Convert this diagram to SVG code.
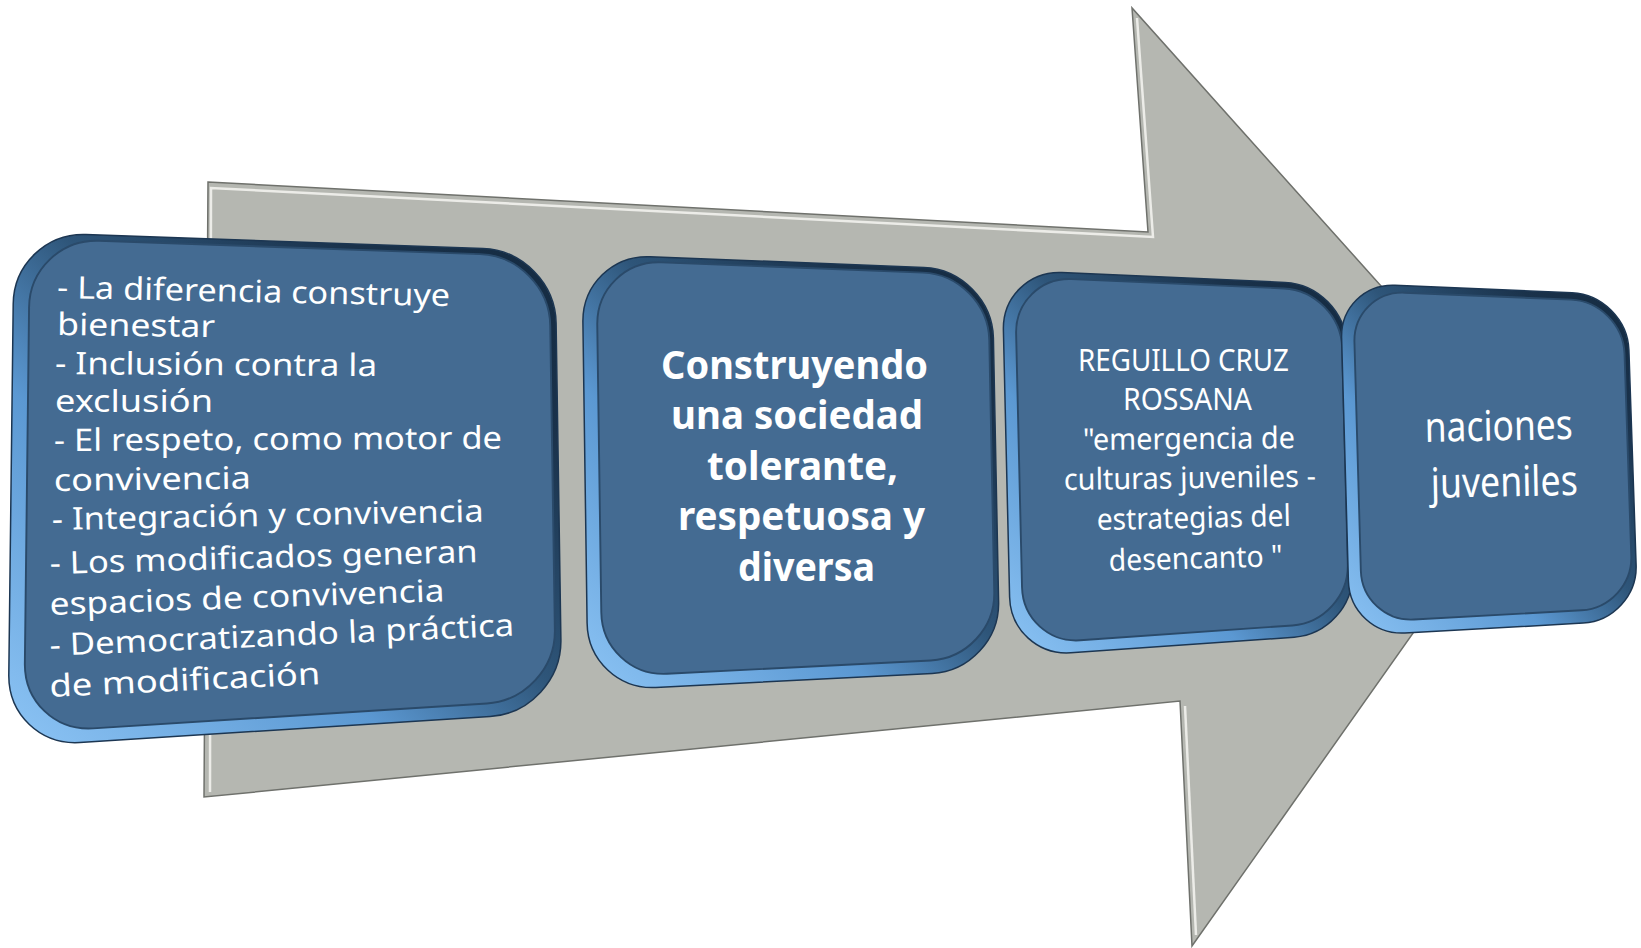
<svg xmlns="http://www.w3.org/2000/svg" width="1641" height="948" viewBox="0 0 1641 948">
<style>
.rim{fill:url(#rimg);stroke:#1c3652;stroke-width:1.5}
.face{fill:#446b92;stroke:#2a4a6a;stroke-width:2}
.t{fill:#ffffff;font-family:"Noto Sans","Open Sans","Liberation Sans",sans-serif}
.t1{font-size:31px}
.t2{font-size:40px;font-weight:bold}
.t3{font-size:30px}
.t4{font-size:42px}
</style>
<defs>
<linearGradient id="rimg" x1="0" y1="1" x2="1" y2="0">
<stop offset="0" stop-color="#8cc4f5"/>
<stop offset="0.35" stop-color="#5b98d2"/>
<stop offset="0.55" stop-color="#2e5579"/>
<stop offset="0.8" stop-color="#1a324b"/>
<stop offset="1" stop-color="#142a40"/>
</linearGradient>
<path id="p1" d="M86,234.5 L483,248.5 C522.6,249.9 555.5,283.4 556.1,323 L560.9,640 C561.5,679.6 529.7,714 490.1,716.5 L79.9,742.5 C40.3,745 8.4,714.6 8.8,675 L13.2,304 C13.6,264.4 46.4,233.1 86,234.5 Z"/>
<path id="p2" d="M650,256.7 L924,267.4 C961.4,268.8 992.6,300.6 993.4,338 L998.6,602 C999.4,639.4 969.4,671.6 932.1,673.5 L655.9,687.5 C618.6,689.4 587.6,660.4 587.1,623 L582.9,322 C582.4,284.6 612.6,255.2 650,256.7 Z"/>
<path id="p3" d="M1061.9,272.6 L1285.1,282.4 C1318,283.8 1345.7,312 1346.6,345 L1352.5,573 C1353.3,606 1327.1,634.9 1294.2,637.2 L1070.9,652.8 C1037.9,655.1 1010.4,630 1009.6,597 L1003.4,330 C1002.6,297 1029,271.2 1061.9,272.6 Z"/>
<path id="p4" d="M1395,285.3 L1572,292.7 C1602.3,294 1627.8,319.7 1628.9,350 L1636.1,565 C1637.2,595.3 1613.3,621.4 1583.1,623.1 L1404.9,633 C1374.7,634.6 1349.3,611.3 1348.4,581 L1341.6,338 C1340.7,307.7 1364.7,284 1395,285.3 Z"/>
</defs>
<rect width="1641" height="948" fill="#ffffff"/>
<g id="arrow">
<polygon points="208,182 1148,232 1132,8 1536,459 1192,946 1180,701 204,797" fill="#b5b7b1" stroke="#6f716c" stroke-width="1.5"/>
<polyline points="210,792 211,188 1153,237 1137,18" fill="none" stroke="#ecece8" stroke-width="2.5"/>
<polyline points="1185,706 1196,935" fill="none" stroke="#ecece8" stroke-width="2.5"/>
</g>
<g id="node1">
<use href="#p1" class="rim"/>
<use href="#p1" class="face" transform="matrix(0.96,0,0,0.96,16.4,15.6)"/>
<text class="t t1" x="57" y="298" textLength="393" lengthAdjust="spacingAndGlyphs" transform="rotate(1.2 57 298)">- La diferencia construye</text>
<text class="t t1" x="57" y="335" textLength="158" lengthAdjust="spacingAndGlyphs" transform="rotate(0.8 57 335)">bienestar</text>
<text class="t t1" x="55" y="374" textLength="322" lengthAdjust="spacingAndGlyphs" transform="rotate(0.4 55 374)">- Inclusión contra la</text>
<text class="t t1" x="55" y="412" textLength="158" lengthAdjust="spacingAndGlyphs">exclusión</text>
<text class="t t1" x="54" y="451" textLength="448" lengthAdjust="spacingAndGlyphs" transform="rotate(-0.3 54 451)">- El respeto, como motor de</text>
<text class="t t1" x="54" y="491" textLength="197" lengthAdjust="spacingAndGlyphs" transform="rotate(-0.7 54 491)">convivencia</text>
<text class="t t1" x="52" y="530" textLength="432" lengthAdjust="spacingAndGlyphs" transform="rotate(-1.1 52 530)">- Integración y convivencia</text>
<text class="t t1" x="50" y="574" textLength="428" lengthAdjust="spacingAndGlyphs" transform="rotate(-1.6 50 574)">- Los modificados generan</text>
<text class="t t1" x="50" y="615" textLength="395" lengthAdjust="spacingAndGlyphs" transform="rotate(-2 50 615)">espacios de convivencia</text>
<text class="t t1" x="50" y="656" textLength="465" lengthAdjust="spacingAndGlyphs" transform="rotate(-2.5 50 656)">- Democratizando la práctica</text>
<text class="t t1" x="50" y="697" textLength="271" lengthAdjust="spacingAndGlyphs" transform="rotate(-2.7 50 697)">de modificación</text>
</g>
<g id="node2">
<use href="#p2" class="rim"/>
<use href="#p2" class="face" transform="matrix(0.955,0,0,0.955,40.6,17.24)"/>
<text class="t t2" x="661" y="379" textLength="267" lengthAdjust="spacingAndGlyphs">Construyendo</text>
<text class="t t2" x="671" y="429" textLength="252" lengthAdjust="spacingAndGlyphs">una sociedad</text>
<text class="t t2" x="707" y="480" textLength="191" lengthAdjust="spacingAndGlyphs">tolerante,</text>
<text class="t t2" x="678" y="530" textLength="247" lengthAdjust="spacingAndGlyphs">respetuosa y</text>
<text class="t t2" x="738" y="581" textLength="137" lengthAdjust="spacingAndGlyphs">diversa</text>
</g>
<g id="node3">
<use href="#p3" class="rim"/>
<use href="#p3" class="face" transform="matrix(0.95,0,0,0.95,62.9,20.15)"/>
<text class="t t3" x="1078" y="371" textLength="211" lengthAdjust="spacingAndGlyphs">REGUILLO CRUZ</text>
<text class="t t3" x="1123" y="410" textLength="129" lengthAdjust="spacingAndGlyphs">ROSSANA</text>
<text class="t t3" x="1083" y="450" textLength="212" lengthAdjust="spacingAndGlyphs" transform="rotate(-0.5 1083 450)">"emergencia de</text>
<text class="t t3" x="1064" y="490" textLength="252" lengthAdjust="spacingAndGlyphs" transform="rotate(-0.8 1064 490)">culturas juveniles -</text>
<text class="t t3" x="1097" y="530" textLength="194" lengthAdjust="spacingAndGlyphs" transform="rotate(-1.2 1097 530)">estrategias del</text>
<text class="t t3" x="1109" y="571" textLength="174" lengthAdjust="spacingAndGlyphs" transform="rotate(-1.6 1109 571)">desencanto "</text>
</g>
<g id="node4">
<use href="#p4" class="rim"/>
<use href="#p4" class="face" transform="matrix(0.94,0,0,0.94,93.34,24.54)"/>
<text class="t t4" x="1425" y="442" textLength="148" lengthAdjust="spacingAndGlyphs" transform="rotate(-1.2 1425 442)">naciones</text>
<text class="t t4" x="1431" y="498" textLength="147" lengthAdjust="spacingAndGlyphs" transform="rotate(-1.2 1431 498)">juveniles</text>
</g>
</svg>
